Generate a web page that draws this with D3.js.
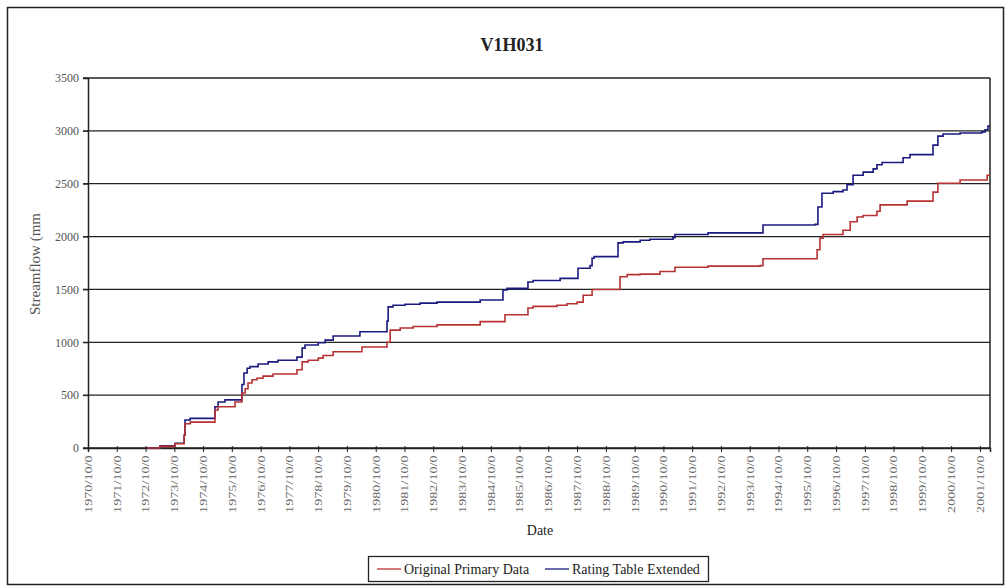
<!DOCTYPE html>
<html>
<head>
<meta charset="utf-8">
<script src="https://cdn.jsdelivr.net/npm/d3@7"></script>
<style>
  body { margin: 0; background: #fff; }
  text { font-family: "Liberation Serif", "Times New Roman", serif; }
</style>
</head>
<body>
<svg id="chart" width="1006" height="588"></svg>
<script>
"use strict";

// series, dates as decimal years (step points)
let ratingDates = [1972.80, 1973.25, 1973.77, 1974.09, 1974.12, 1974.30, 1975.16, 1975.27, 1975.51,
  1976.10, 1976.17, 1976.28, 1976.38, 1976.66, 1977.01, 1977.35, 1978.01, 1978.19, 1978.29, 1978.75,
  1978.99, 1979.27, 1980.20, 1981.14, 1981.18, 1981.35, 1981.77, 1982.29, 1982.88, 1984.38, 1985.17,
  1985.31, 1986.04, 1986.22, 1987.16, 1987.78, 1988.20, 1988.27, 1988.34, 1989.17, 1989.35, 1989.94,
  1990.28, 1991.08, 1991.15, 1992.30, 1994.21, 1996.02, 1996.12, 1996.26, 1996.65, 1996.99, 1997.13,
  1997.34, 1997.69, 1998.04, 1998.17, 1998.35, 1999.08, 1999.32, 2000.12, 2000.29, 2000.47, 2001.06,
  2001.82, 2001.93, 2002.03, 2002.10];
let ratingValues = [0, 20, 45, 120, 265, 280, 390, 435, 455,
  600, 710, 755, 770, 795, 815, 830, 860, 945, 975, 995,
  1020, 1060, 1100, 1200, 1335, 1350, 1360, 1370, 1380, 1400, 1495,
  1510, 1570, 1585, 1605, 1700, 1725, 1795, 1810, 1940, 1950, 1965,
  1975, 1990, 2020, 2035, 2110, 2115, 2280, 2410, 2425, 2440, 2490,
  2580, 2610, 2640, 2680, 2700, 2745, 2775, 2865, 2950, 2970, 2980,
  2990, 3010, 3045, 3045];

let originalDates = [1972.80, 1973.25, 1973.77, 1974.09, 1974.12, 1974.30, 1975.16, 1975.27, 1975.86,
  1976.10, 1976.21, 1976.31, 1976.45, 1976.62, 1976.83, 1977.18, 1978.01, 1978.19, 1978.40, 1978.75,
  1978.92, 1979.27, 1980.27, 1981.14, 1981.25, 1981.60, 1982.05, 1982.88, 1984.38, 1985.24, 1986.04,
  1986.22, 1987.05, 1987.40, 1987.75, 1987.96, 1988.27, 1989.24, 1989.49, 1989.94, 1990.63, 1991.15,
  1992.30, 1994.11, 1994.21, 1996.09, 1996.19, 1996.30, 1996.99, 1997.24, 1997.48, 1997.69, 1998.17,
  1998.28, 1999.22, 2000.12, 2000.29, 2001.06, 2002.00, 2002.10];
let originalValues = [0, 15, 40, 120, 230, 245, 360, 390, 435,
  520, 560, 615, 645, 660, 680, 700, 740, 815, 830, 850,
  875, 910, 955, 1000, 1115, 1135, 1150, 1165, 1195, 1260, 1325,
  1340, 1350, 1365, 1380, 1445, 1500, 1620, 1640, 1645, 1670, 1710,
  1720, 1725, 1790, 1875, 1985, 2020, 2060, 2140, 2185, 2200, 2240,
  2300, 2335, 2420, 2505, 2535, 2580, 2580];

let tickYears = d3.range(1970, 2002);
let yTicks = [0, 500, 1000, 1500, 2000, 2500, 3000, 3500];
let seriesNames = ["Original Primary Data", "Rating Table Extended"];
let seriesColors = ["#b83232", "#1a1a80"];

// layout
let plot = {left: 88, right: 990, top: 78, bottom: 448};
let svg = d3.select("#chart");

function decToDate(t) {
  let y = Math.floor(t);
  let start = new Date(y, 0, 1), end = new Date(y + 1, 0, 1);
  return new Date(start.getTime() + (t - y) * (end - start));
}

let x = d3.scaleTime()
  .domain([new Date(1970, 9, 1), decToDate(2002.10)])
  .range([plot.left, plot.right]);

let y = d3.scaleLinear()
  .domain([0, 3500])
  .range([plot.bottom, plot.top]);

// outer frame
svg.append("rect")
  .attr("x", 7.5).attr("y", 7.5)
  .attr("width", 996).attr("height", 577)
  .attr("fill", "none").attr("stroke", "#222").attr("stroke-width", 1.5);

// title
svg.append("text")
  .attr("x", 512).attr("y", 51)
  .attr("text-anchor", "middle")
  .attr("font-size", 18).attr("font-weight", "bold")
  .attr("fill", "#222")
  .text("V1H031");

// gridlines
svg.append("g")
  .selectAll("line")
  .data(yTicks)
  .join("line")
  .attr("x1", plot.left - 5).attr("x2", plot.right)
  .attr("y1", d => y(d)).attr("y2", d => y(d))
  .attr("stroke", "#222").attr("stroke-width", 1.3);

// y axis
let yAxis = svg.append("g")
  .attr("transform", `translate(${plot.left},0)`)
  .call(d3.axisLeft(y).tickValues(yTicks).tickSize(5).tickFormat(d3.format("d")));
yAxis.select(".domain").attr("stroke", "#222").attr("stroke-width", 1.5);
yAxis.selectAll(".tick line").attr("stroke", "#222");
yAxis.selectAll("text")
  .attr("font-family", "Liberation Serif, serif")
  .attr("font-size", 12).attr("fill", "#555").attr("x", -9);

// right border
svg.append("line")
  .attr("x1", plot.right).attr("x2", plot.right)
  .attr("y1", plot.top).attr("y2", plot.bottom)
  .attr("stroke", "#222").attr("stroke-width", 1.5);

// x axis
let xAxis = svg.append("g")
  .attr("transform", `translate(0,${plot.bottom})`)
  .call(d3.axisBottom(x)
    .tickValues(tickYears.map(yr => new Date(yr, 9, 1)))
    .tickSize(4)
    .tickFormat(d => d.getFullYear() + "/10/0"));
xAxis.select(".domain").attr("stroke", "#222").attr("stroke-width", 1.5);
xAxis.selectAll(".tick line").attr("stroke", "#222").attr("y1", -2);
xAxis.selectAll("text")
  .attr("font-family", "Liberation Serif, serif")
  .attr("font-size", 10.5).attr("fill", "#666")
  .attr("text-anchor", "end")
  .attr("transform", "rotate(-90) scale(1.35,1)")
  .attr("x", -5.5).attr("y", 0).attr("dy", "0.32em");

// axis titles
svg.append("text")
  .attr("transform", "translate(40,264) rotate(-90)")
  .attr("text-anchor", "middle")
  .attr("font-size", 15).attr("fill", "#555")
  .text("Streamflow (mm");

svg.append("text")
  .attr("x", 540).attr("y", 535)
  .attr("text-anchor", "middle")
  .attr("font-size", 14).attr("fill", "#222")
  .text("Date");

// lines
let line = d3.line()
  .x(d => x(decToDate(d[0])))
  .y(d => y(d[1]))
  .curve(d3.curveStepAfter);

let series = [
  d3.zip(originalDates, originalValues),
  d3.zip(ratingDates, ratingValues)
];

svg.append("g")
  .selectAll("path")
  .data([1, 0])
  .join("path")
  .attr("d", i => line(series[i]))
  .attr("fill", "none")
  .attr("stroke", i => seriesColors[i])
  .attr("stroke-width", 1.6);

// legend
let legend = svg.append("g");
legend.append("rect")
  .attr("x", 368.5).attr("y", 556.5)
  .attr("width", 340).attr("height", 25)
  .attr("fill", "#fff").attr("stroke", "#222").attr("stroke-width", 1.3);

let legendX = [377, 545];
seriesNames.forEach((name, i) => {
  legend.append("line")
    .attr("x1", legendX[i]).attr("x2", legendX[i] + 24)
    .attr("y1", 569).attr("y2", 569)
    .attr("stroke", seriesColors[i]).attr("stroke-width", 1.3);
  legend.append("text")
    .attr("x", legendX[i] + 27).attr("y", 574)
    .attr("font-size", 14).attr("fill", "#222")
    .text(name);
});
</script>
</body>
</html>
